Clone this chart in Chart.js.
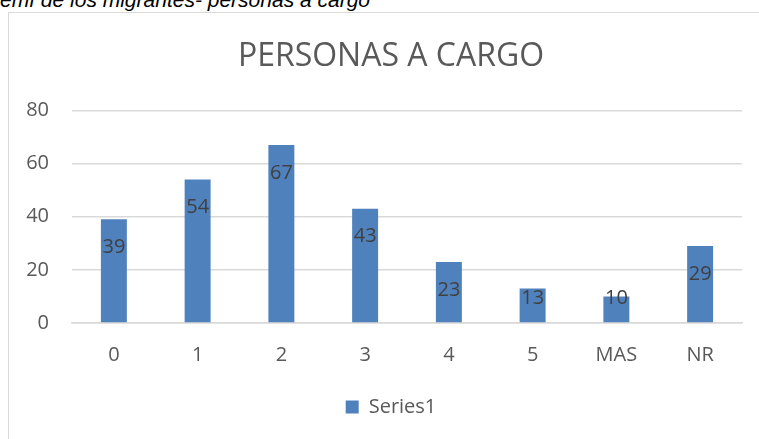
<!DOCTYPE html>
<html>
<head>
<meta charset="utf-8">
<script src="https://cdn.jsdelivr.net/npm/chart.js@4/dist/chart.umd.min.js"></script>
<style>
  body { margin: 0; background: #fff; overflow: hidden; width: 759px; height: 439px; position: relative; }
  #caption { position: absolute; left: 0; top: -12px; font: italic 21px "Liberation Sans", Arial, sans-serif; color: #000; white-space: nowrap; }
  #box { position: absolute; left: 8px; top: 12px; width: 764px; height: 440px; border-left: 1px solid #d9d9d9; border-top: 1px solid #d9d9d9; }
</style>
</head>
<body>
<div id="caption">emf de los migrantes- personas a cargo</div>
<div id="box"><canvas id="grafico" width="764" height="426"></canvas></div>
<script>
var categorias = ['0', '1', '2', '3', '4', '5', 'MAS', 'NR'];
var valores = [39, 54, 67, 43, 23, 13, 10, 29];
var nomeSerie = 'Series1';
var titulo = 'PERSONAS A CARGO';

// rotulos de valor dentro das barras (estilo Excel "inside end")
var rotulos = {
    id: 'rotulos',
    afterDatasetsDraw: function (chart) {
        var ctx = chart.ctx;
        var meta = chart.getDatasetMeta(0);
        ctx.save();
        ctx.font = '20px "Open Sans"';
        ctx.fillStyle = '#404040';
        ctx.textAlign = 'center';
        ctx.textBaseline = 'middle';
        meta.data.forEach(function (barra, i) {
            var y = Math.min(barra.y + 28, barra.base - 24);
            ctx.fillText(valores[i], barra.x, y);
        });
        ctx.restore();
    }
};

new Chart(document.getElementById('grafico'), {
    type: 'bar',
    data: {
        labels: categorias,
        datasets: [{
            label: nomeSerie,
            data: valores,
            backgroundColor: '#4f81bd',
            borderWidth: 0,
            categoryPercentage: 1,
            barPercentage: 0.31
        }]
    },
    options: {
        responsive: false,
        animation: false,
        layout: { padding: { left: 0, right: 0, top: 0, bottom: 12 } },
        plugins: {
            title: {
                display: true,
                text: titulo,
                color: '#595959',
                font: { family: 'Open Sans', size: 32, weight: 'normal' },
                padding: { top: 25, bottom: 34 }
            },
            legend: {
                position: 'bottom',
                labels: {
                    color: '#595959',
                    font: { family: 'Open Sans', size: 20 },
                    boxWidth: 13,
                    boxHeight: 13,
                    padding: 10
                }
            },
            tooltip: { enabled: false }
        },
        scales: {
            x: {
                grid: { display: false, drawTicks: false },
                border: { display: true, color: '#d9d9d9', width: 1.5 },
                ticks: { color: '#595959', font: { family: 'Open Sans', size: 20 }, padding: 20 },
                afterFit: function (s) { s.height = 64; }
            },
            y: {
                min: 0,
                max: 80,
                ticks: { stepSize: 20, color: '#595959', font: { family: 'Open Sans', size: 20 }, padding: 23 },
                grid: { color: '#d9d9d9', lineWidth: 1.5, drawTicks: false },
                border: { display: false },
                afterFit: function (s) { s.width = 63; }
            },
            // eixo vazio so para reservar a margem direita
            margem: {
                position: 'right',
                min: 0,
                max: 80,
                grid: { display: false, drawTicks: false },
                border: { display: false },
                ticks: { display: false },
                afterFit: function (s) { s.width = 31; }
            }
        }
    },
    plugins: [rotulos]
});
</script>
</body>
</html>
